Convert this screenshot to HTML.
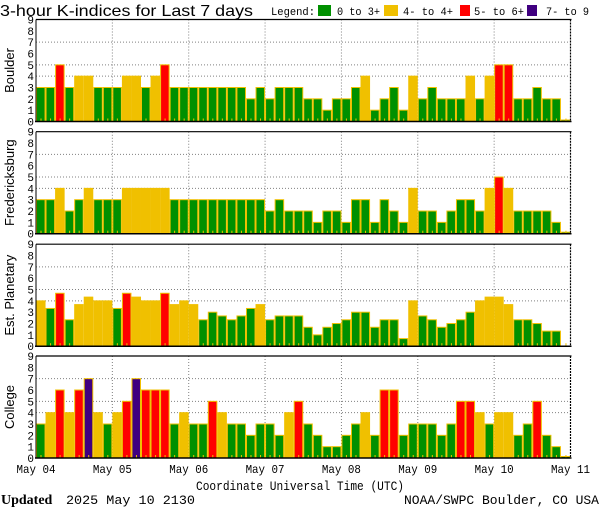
<!DOCTYPE html>
<html><head><meta charset="utf-8"><style>
html,body{margin:0;padding:0;background:#fff;width:600px;height:510px;overflow:hidden}
svg{display:block;font-family:"Liberation Sans",sans-serif}
</style></head><body>
<svg id="chart" width="600" height="510" viewBox="0 0 600 510" xmlns="http://www.w3.org/2000/svg">
<text x="0" y="16" font-size="16" textLength="253" lengthAdjust="spacingAndGlyphs">3-hour K-indices for Last 7 days</text>
<g font-family="Liberation Mono, monospace" font-size="11">
<text x="271" y="15" textLength="44" lengthAdjust="spacingAndGlyphs">Legend:</text>
<rect x="318" y="5" width="13" height="11" fill="#009000"/>
<text x="337" y="15" textLength="43" lengthAdjust="spacingAndGlyphs">0 to 3+</text>
<rect x="384" y="5" width="14" height="11" fill="#f0c000"/>
<text x="403" y="15" textLength="50" lengthAdjust="spacingAndGlyphs">4- to 4+</text>
<rect x="460" y="5" width="10" height="11" fill="#ff0000"/>
<text x="474" y="15" textLength="50" lengthAdjust="spacingAndGlyphs">5- to 6+</text>
<rect x="527" y="5" width="10" height="11" fill="#400080"/>
<text x="546" y="15" textLength="43" lengthAdjust="spacingAndGlyphs">7- to 9</text>
</g>
<g id="panels"></g>
<text x="300" y="490" font-size="13" text-anchor="middle" font-family="Liberation Mono, monospace" textLength="208" lengthAdjust="spacingAndGlyphs">Coordinate Universal Time (UTC)</text>
<text x="1" y="504" font-size="14" font-weight="bold" font-family="Liberation Serif, serif">Updated</text>
<text x="66" y="504" font-size="13" font-family="Liberation Mono, monospace" textLength="129" lengthAdjust="spacingAndGlyphs">2025 May 10 2130</text>
<text x="599" y="504" font-size="13" text-anchor="end" font-family="Liberation Mono, monospace" textLength="195" lengthAdjust="spacingAndGlyphs">NOAA/SWPC Boulder, CO USA</text>
</svg>
<script>
const stations = ["Boulder","Fredericksburg","Est. Planetary","College"];
const dayLabels = ["May 04","May 05","May 06","May 07","May 08","May 09","May 10","May 11"];
const yTicks = [0,1,2,3,4,5,6,7,8,9];
const boulderK = [3,3,5,3,4,4,3,3, 3,4,4,3,4,5,3,3, 3,3,3,3,3,3,2,3, 2,3,3,3,2,2,1,2, 2,3,4,1,2,3,1,4, 2,3,2,2,2,4,2,4, 5,5,2,2,3,2,2,0];
const fredericksburgK = [3,3,4,2,3,4,3,3, 3,4,4,4,4,4,3,3, 3,3,3,3,3,3,3,3, 2,3,2,2,2,1,2,2, 1,3,3,1,3,2,1,4, 2,2,1,2,3,3,2,4, 5,4,2,2,2,2,1,0];
const planetaryK = [4,3.33,4.67,2.33,3.67,4.33,4,4, 3.33,4.67,4.33,4,4,4.67,3.67,4, 3.67,2.33,3,2.67,2.33,2.67,3.33,3.67, 2.33,2.67,2.67,2.67,1.67,1,1.67,2, 2.33,3,3,1.67,2.33,2.33,0.67,4, 2.67,2.33,1.67,2,2.33,3,4,4.33, 4.33,3.67,2.33,2.33,2,1.33,1.33,null];
const collegeK = [3,4,6,4,6,7,4,3, 4,5,7,6,6,6,3,4, 3,3,5,4,3,3,2,3, 3,2,4,5,3,2,1,1, 2,3,4,2,6,6,2,3, 3,3,2,3,5,5,4,3, 4,4,2,3,5,2,1,0];
const series = [boulderK, fredericksburgK, planetaryK, collegeK];

const NS="http://www.w3.org/2000/svg";
const X0=36, X1=570.5, H=102, TOPS=[19.5,131.7,244.2,356];
const nBars=56, bw=(X1-X0)/nBars;
const xScale=i=>X0+i*bw;
const dayX=d=>X0+d*(X1-X0)/7;
function mk(tag,attrs,parent){const e=document.createElementNS(NS,tag);for(const k in attrs)e.setAttribute(k,attrs[k]);parent.appendChild(e);return e;}
function color(v){return v>6.5?"#400080":v>4.5?"#ff0000":v>3.5?"#f0c000":"#009000";}
const root=document.getElementById("panels");
series.forEach((vals,p)=>{
  const top=TOPS[p], bot=top+H;
  const y=v=>bot-v*H/9;
  const g=mk("g",{},root);
  
  
  // grid
  [4,5,7].forEach(v=>{
    const l=mk("line",{x1:X0,x2:X1,y1:y(v),y2:y(v),stroke:"#808080","stroke-dasharray":"1,2"},g);
    
    
  });
  for(let d=1;d<7;d++){
    const l=mk("line",{x1:dayX(d),x2:dayX(d),y1:top,y2:bot,stroke:"#808080","stroke-dasharray":"1,2"},g);
    
    
  }
  // bars
  vals.forEach((v,i)=>{
    if(v===null) return;
    const hh=Math.max(v*H/9,1.5);
    const r=mk("rect",{x:xScale(i)+0.5,y:bot-hh,width:bw-1,height:hh,fill:color(v),stroke:"#f0c000","stroke-width":1},g);
    
    
  });
  // small ticks
  for(let i=0;i<nBars;i++){
    const t=mk("rect",{x:xScale(i)+4.5,y:bot-3,width:1,height:3,fill:"#f0c000"},g);
    
    
  }
  // axes frame
  mk("line",{x1:X0,x2:X1+1,y1:top,y2:top,stroke:"#000","stroke-width":1.2},g);
  mk("line",{x1:X0-1,x2:X1+1,y1:bot,y2:bot,stroke:"#000","stroke-width":1.5},g);
  mk("line",{x1:X0,x2:X0,y1:top,y2:bot,stroke:"#000","stroke-width":1},g);
  mk("line",{x1:X1,x2:X1,y1:top,y2:bot,stroke:"#000","stroke-width":1.2,"stroke-dasharray":"2,1"},g);
  // y ticks
  yTicks.forEach(v=>{
    const t=mk("text",{x:34,y:y(v)+4,"font-size":"11","text-anchor":"end","font-family":"Liberation Mono, monospace"},g);
    t.textContent=v;
    
    
  });
  // station label
  const cy=top+H/2;
  const lab=mk("text",{x:0,y:0,"font-size":"13","text-anchor":"middle",transform:`translate(14,${cy}) rotate(-90)`},g);
  lab.textContent=stations[p];
  
  
});
// x labels
dayLabels.forEach((s,d)=>{
  const t=mk("text",{x:dayX(d),y:473,"font-size":"12","text-anchor":"middle","font-family":"Liberation Mono, monospace",textLength:"39",lengthAdjust:"spacingAndGlyphs"},root);
  t.textContent=s;
  
  
});
</script>
</body></html>
